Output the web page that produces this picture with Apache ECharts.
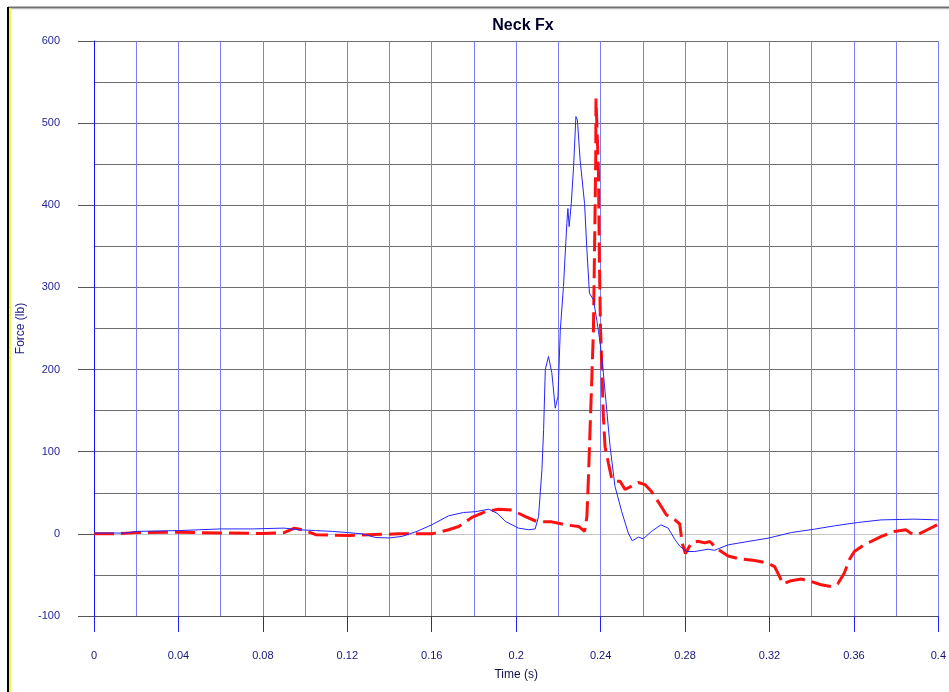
<!DOCTYPE html>
<html>
<head>
<meta charset="utf-8">
<script src="https://cdn.jsdelivr.net/npm/echarts@6/dist/echarts.min.js"></script>
<style>
html,body{margin:0;padding:0;background:#fff;}
#chart{width:949px;height:692px;}
</style>
</head>
<body>
<div id="chart"></div>
<script>
const titleText = 'Neck Fx';
const xName = 'Time (s)';
const yName = 'Force (lb)';

const blueT = [0,0.015,0.02,0.04,0.05,0.06,0.075,0.09,0.097,0.105,0.113,0.12,0.127,0.1335,0.14,0.146,0.153,0.16,0.168,0.175,0.1807,0.187,0.191,0.195,0.201,0.206,0.209,0.2106,0.2122,0.213,0.2138,0.2153,0.2169,0.2185,0.2198,0.2209,0.2224,0.224,0.2245,0.2251,0.2261,0.2272,0.2283,0.229,0.2303,0.2324,0.2335,0.2347,0.2366,0.2382,0.2398,0.2413,0.2429,0.2445,0.2468,0.25,0.2531,0.255,0.2579,0.2602,0.2641,0.2686,0.272,0.2752,0.2775,0.2807,0.2846,0.2909,0.294,0.3004,0.3098,0.3193,0.3303,0.3413,0.3507,0.3617,0.3728,0.3885,0.4];
const blueF = [1,1,3,4,5,6,6,7,5,4,3,1.6,0,-4.5,-5,-3,3,11,22,26,27,30,25,15,7,5,6,21,78,127,200,216,196,153,167,248,301,378,396,374,402,447,508,504,455,402,346,293,285,260,232,196,151,106,58,27,1,-8.5,-4,-6,3,11,7,-7,-15,-21.5,-21.5,-18.7,-20,-13.4,-9.3,-5.3,1.6,5.7,9.7,13.8,17,17.9,17];

const redT = [0,0.01,0.02,0.04,0.06,0.08,0.09,0.095,0.1,0.105,0.121,0.13,0.1445,0.16,0.168,0.1728,0.179,0.1855,0.1917,0.198,0.2044,0.2098,0.2169,0.22,0.2232,0.2296,0.2324,0.2335,0.2342,0.235,0.2358,0.2366,0.2373,0.2377,0.2378,0.239,0.2394,0.2399,0.2405,0.2413,0.2421,0.2437,0.2452,0.2468,0.2492,0.2516,0.2547,0.2579,0.261,0.2641,0.2673,0.2712,0.2752,0.2775,0.2786,0.2802,0.283,0.2861,0.2893,0.2917,0.2956,0.3004,0.3051,0.313,0.3193,0.3224,0.3248,0.3263,0.3303,0.335,0.3397,0.3444,0.3492,0.3523,0.3554,0.3578,0.3602,0.3649,0.3728,0.3791,0.3846,0.387,0.3901,0.3948,0.3995];
const redF = [0,0,1.5,2,1,0.5,1.5,7,4,-1,-2,-1,0,0,5,9,20,27,30,29,21,15,14.6,13,11,9,3,21,66,127,187,248,378,459,530,440,337,256,208,143,106,86,68,64,64,54,58,62.5,60,51.5,39,23,17,12,-11,-24,-11,-9,-11,-9.3,-19,-27,-30,-32.5,-35.7,-39.8,-52,-61,-57,-55,-58,-62,-64,-61,-48,-31.6,-21.5,-13.4,-3.3,2.8,4.9,0.8,-1,5,11];

const xLabelTicks = [0,0.04,0.08,0.12,0.16,0.2,0.24,0.28,0.32,0.36,0.4];
const yLabelTicks = [-100,0,100,200,300,400,500,600];

const blueData = blueT.map((t,i)=>[t,blueF[i]]);
const redData = redT.map((t,i)=>[t,redF[i]]);

const hColors = [];
for (let v=-100; v<=600; v+=50) hColors.push(v===0 ? '#c4c4c4' : '#6e6e6e');

const chart = echarts.init(document.getElementById('chart'), null, {renderer:'canvas'});
chart.setOption({
  animation:false,
  backgroundColor:'#ffffff',
  title:{
    text:titleText, left:518, top:13, textAlign:'center',
    textStyle:{fontFamily:'Liberation Sans, Arial', fontWeight:'bold', fontSize:16, color:'#00002a'}
  },
  grid:{left:94, right:8, top:41, bottom:76, containLabel:false},
  xAxis:[
    {type:'value', min:0, max:0.4, interval:0.02, position:'bottom',
     axisLine:{show:false, onZero:false}, axisTick:{show:false}, axisLabel:{show:false},
     splitLine:{show:true, lineStyle:{color:'#7c7cff', width:1}}},
    {type:'value', min:0, max:0.4, interval:0.04, position:'bottom',
     name:xName, nameLocation:'middle', nameGap:53,
     nameTextStyle:{fontFamily:'Liberation Sans, Arial', fontSize:12, color:'#10104a'},
     axisLine:{show:true, onZero:false, lineStyle:{color:'#505050', width:1}},
     axisTick:{show:true, length:16, lineStyle:{color:'#2020ff', width:1}},
     axisLabel:{show:true, margin:34, fontFamily:'Liberation Sans, Arial', fontSize:11, color:'#14147a',
       formatter:function(v){ const m = xLabelTicks.find(t=>Math.abs(t-v)<1e-9); return m===undefined?'':String(m);} },
     splitLine:{show:false}}
  ],
  yAxis:[
    {type:'value', min:-100, max:600, interval:50, position:'left',
     axisLine:{show:true, onZero:false, lineStyle:{color:'#1010ff', width:1}}, axisTick:{show:false}, axisLabel:{show:false},
     splitLine:{show:true, lineStyle:{color:hColors, width:1}}},
    {type:'value', min:-100, max:600, interval:100, position:'left',
     name:yName, nameLocation:'middle', nameGap:66,
     nameTextStyle:{fontFamily:'Liberation Sans, Arial', fontSize:12, color:'#1a1a7a'},
     axisLine:{show:false, onZero:false},
     axisTick:{show:true, length:16, lineStyle:{color:'#555555', width:1}},
     axisLabel:{show:true, margin:34, fontFamily:'Liberation Sans, Arial', fontSize:11, color:'#24249a',
       formatter:function(v){ const m = yLabelTicks.find(t=>Math.abs(t-v)<1e-9); return m===undefined?'':String(m);} },
     splitLine:{show:false}}
  ],
  series:[
    {type:'line', data:blueData, xAxisIndex:0, yAxisIndex:0, showSymbol:false, symbol:'none',
     lineStyle:{color:'#2525ff', width:1}, z:3},
    {type:'line', data:redData, xAxisIndex:0, yAxisIndex:0, showSymbol:false, symbol:'none',
     lineStyle:{color:'#ff1010', width:3, type:[20,7]}, z:2}
  ],
  graphic:[
    {type:'line', shape:{x1:8, y1:7.5, x2:949, y2:7.5}, style:{stroke:'#707070', lineWidth:2}, silent:true},
    {type:'line', shape:{x1:10, y1:9.5, x2:949, y2:9.5}, style:{stroke:'#ececec', lineWidth:1}, silent:true},
    {type:'line', shape:{x1:8, y1:7, x2:8, y2:692}, style:{stroke:'#000000', lineWidth:2}, silent:true},
    {type:'line', shape:{x1:10, y1:8, x2:10, y2:692}, style:{stroke:'#f4f060', lineWidth:2}, silent:true}
  ]
});
</script>
</body>
</html>
